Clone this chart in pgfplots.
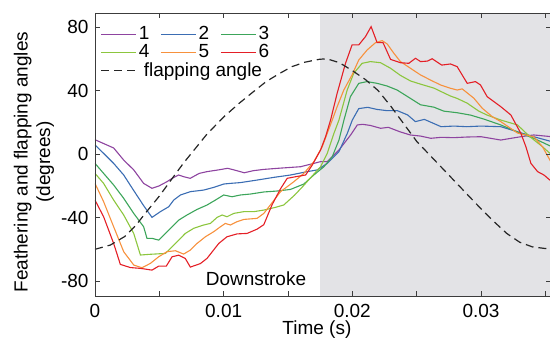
\documentclass[border=0pt]{standalone}
\usepackage{fontspec}
\setmainfont{Liberation Sans}
\usepackage{pgfplots}
\pgfplotsset{compat=1.18}
\definecolor{c1}{RGB}{142,68,160}
\definecolor{c2}{RGB}{59,109,179}
\definecolor{c3}{RGB}{60,165,90}
\definecolor{c4}{RGB}{140,198,62}
\definecolor{c5}{RGB}{247,145,61}
\definecolor{c6}{RGB}{228,31,38}
\definecolor{shade}{RGB}{227,227,230}
\definecolor{axcol}{RGB}{60,60,60}
\begin{document}
\fontsize{19}{22.5}\selectfont
\begin{tikzpicture}
\useasboundingbox (-95pt,-49pt) rectangle (455pt,296pt);
\begin{axis}[
  scale only axis, width=455.6pt, height=283pt,
  xmin=0, xmax=0.03541, ymin=-89.4, ymax=88.8,
  scaled x ticks=false, scaled y ticks=false,
  xtick={0,0.01,0.02,0.03}, xticklabels={0,0.01,0.02,0.03},
  minor xtick={0.005,0.015,0.025,0.035},
  ytick={-80,-40,0,40,80}, yticklabels={-80,-40,0,40,80},
  xticklabel style={yshift=-2pt},
  major tick length=5pt, minor tick length=5pt,
  tick style={axcol, line width=0.8pt},
  axis line style={axcol, line width=0.8pt},
  axis on top,
  xlabel={Time (s)},
  xlabel style={at={(axis description cs:0.487,-0.117)}, anchor=center},
  ylabel={Feathering and flapping angles\\(degrees)},
  ylabel style={align=center, at={(axis description cs:-0.134,0.473)}, anchor=center},
  legend columns=3,
  legend cell align=left,
  legend image code/.code={\draw[#1, line width=1.3pt] (0pt,0pt) -- (35pt,0pt);},
  legend style={at={(axis description cs:0.005,0.968)}, anchor=north west,
    draw=none, fill=none, row sep=-2pt,
    /tikz/every even column/.append style={column sep=9pt}},
]
\addplot[draw=none, fill=shade, forget plot] coordinates {(0.0175,-89.4) (0.036,-89.4) (0.036,88.8) (0.0175,88.8)};

\addplot[color=c1, line width=1.1pt] coordinates {(0,9) (0.00145,3.8) (0.00223,-3.8) (0.00301,-10) (0.00378,-18.5) (0.00443,-21.6) (0.00495,-20.2) (0.0056,-17.4) (0.006,-15.3) (0.0065,-13.2) (0.0069,-14.3) (0.0074,-15.3) (0.0081,-12.2) (0.0087,-11.1) (0.0096,-10) (0.0103,-9) (0.0108,-10) (0.0116,-11.8) (0.0123,-10.5) (0.0131,-9.7) (0.0142,-9) (0.01598,-8) (0.01701,-5.9) (0.01753,-4.8) (0.01805,-4.8) (0.01896,2.5) (0.01987,12) (0.02039,18.3) (0.0208,18.7) (0.0214,18) (0.0222,16.2) (0.0228,16.8) (0.0237,14) (0.0245,12) (0.0253,11.3) (0.0261,9.9) (0.0269,10.5) (0.0279,10.3) (0.0289,10.7) (0.0300,10.9) (0.03154,8.8) (0.0331,10.9) (0.0341,12) (0.0355,10.9)};
\addplot[color=c2, line width=1.1pt] coordinates {(0,5.7) (0.00067,0.4) (0.00145,-5.9) (0.00223,-13.2) (0.00301,-23) (0.00378,-32.5) (0.00443,-39.9) (0.00508,-36.3) (0.00573,-33.2) (0.00612,-29) (0.00664,-25.8) (0.00741,-23.7) (0.00845,-22.7) (0.00923,-21) (0.0100,-18.9) (0.0105,-18.5) (0.0113,-18) (0.0126,-16.4) (0.0139,-14.7) (0.0152,-13.2) (0.0165,-11.1) (0.01728,-10) (0.01805,-5.9) (0.01896,1.5) (0.01961,13) (0.0200,21.4) (0.0205,28.6) (0.0212,29.4) (0.0219,28.1) (0.0227,27.3) (0.0235,27.3) (0.0243,24.6) (0.0249,20.4) (0.0256,21.8) (0.0269,17.2) (0.0279,17.6) (0.0289,17.2) (0.0300,17.6) (0.03154,17.2) (0.03284,14) (0.0341,10.9) (0.0355,7.8)};
\addplot[color=c3, line width=1.1pt] coordinates {(0,-5.9) (0.00067,-12.2) (0.00145,-19.5) (0.00223,-27.9) (0.00301,-37.4) (0.00378,-45.8) (0.00404,-53.1) (0.00443,-53.1) (0.00495,-54.2) (0.00547,-50) (0.00599,-45.8) (0.00651,-41.6) (0.00715,-38.4) (0.00793,-34.9) (0.00871,-32.1) (0.00936,-29) (0.0100,-25.8) (0.01065,-26.9) (0.0113,-25.8) (0.01208,-25.2) (0.01312,-23.9) (0.01415,-23.3) (0.01519,-22.3) (0.01623,-18.9) (0.01701,-13.2) (0.01779,-8) (0.01844,-1.7) (0.01896,8.8) (0.01935,21.4) (0.01985,36.1) (0.0205,44.5) (0.02115,45.6) (0.02193,44.5) (0.02271,42.8) (0.02348,40.3) (0.02452,35) (0.0253,31) (0.02634,29.5) (0.02711,27) (0.02815,26) (0.02919,24.5) (0.03022,22) (0.03154,18.3) (0.0331,13) (0.0341,9.9) (0.0355,4.6)};
\addplot[color=c4, line width=1.1pt] coordinates {(0,-12.2) (0.00067,-18.5) (0.00145,-29) (0.00223,-38.4) (0.00301,-50) (0.00353,-63.6) (0.00417,-63.2) (0.00482,-62.9) (0.00547,-62.6) (0.00599,-58.4) (0.00651,-54.2) (0.00702,-50) (0.00767,-46.8) (0.00845,-44.7) (0.00897,-43.7) (0.00949,-39.9) (0.00988,-38.4) (0.01026,-39.5) (0.01078,-37.4) (0.01156,-36.3) (0.01234,-36.3) (0.01312,-35.3) (0.01402,-33.6) (0.01467,-32.1) (0.0155,-26) (0.0162,-20) (0.01675,-15) (0.01753,-8) (0.01805,0.4) (0.01857,13) (0.01896,21.4) (0.0196,40.3) (0.02011,50.8) (0.02076,57.1) (0.02141,58.2) (0.02219,57.5) (0.02297,54) (0.02374,49.5) (0.02452,46) (0.0253,44) (0.02634,41.5) (0.02711,38.5) (0.02763,36.5) (0.02815,35) (0.02893,32) (0.02983,27) (0.03048,24.5) (0.03154,21.4) (0.03284,18.3) (0.0338,10.9) (0.03478,4.6) (0.0355,-0.6)};
\addplot[color=c5, line width=1.1pt] coordinates {(0,-18.5) (0.00067,-30) (0.00145,-45.8) (0.00223,-61.5) (0.00301,-69.9) (0.00365,-71.6) (0.0043,-68.9) (0.00495,-64.7) (0.0056,-61.5) (0.00625,-60.9) (0.00689,-63) (0.00741,-60.5) (0.00793,-56.3) (0.00858,-52.1) (0.00923,-48.9) (0.00975,-45.8) (0.01013,-43.7) (0.01052,-44.7) (0.01104,-42.6) (0.01156,-41.2) (0.0126,-40.5) (0.01312,-37.4) (0.01376,-30.7) (0.01442,-23.7) (0.01546,-17.4) (0.01623,-12.2) (0.01701,-4.8) (0.01766,4.6) (0.01805,13) (0.01844,21.4) (0.01882,29.8) (0.01934,40.3) (0.01998,49.8) (0.0205,59.2) (0.02115,65.5) (0.0218,70.1) (0.02232,71.4) (0.02271,69.3) (0.02323,63.4) (0.02374,58.2) (0.02452,54) (0.0253,49.8) (0.02607,46.6) (0.02685,43.5) (0.02763,41.4) (0.02815,40.3) (0.02854,41) (0.02945,35.1) (0.0301,28.8) (0.03088,23.5) (0.03154,20.4) (0.03284,13.2) (0.0341,10.9) (0.03478,4.6) (0.0355,-5.9)};
\addplot[color=c6, line width=1.1pt] coordinates {(0,-29) (0.00067,-39.5) (0.00145,-56.3) (0.00197,-69.5) (0.00275,-71.5) (0.00353,-72) (0.00443,-73.1) (0.00495,-70.6) (0.00554,-70.6) (0.00599,-64.7) (0.00651,-63.7) (0.00702,-65.8) (0.00741,-71.2) (0.00819,-69) (0.00871,-65.7) (0.00962,-56.3) (0.01026,-52.1) (0.01104,-50.3) (0.01182,-50) (0.0126,-47.3) (0.01312,-44.5) (0.01376,-32) (0.01441,-22) (0.01494,-15.3) (0.01559,-14.3) (0.01637,-13.2) (0.01689,-6.9) (0.01753,2.5) (0.01792,10.9) (0.01831,21.4) (0.01882,38.2) (0.01947,57.1) (0.01998,68.7) (0.0205,68.7) (0.02102,73.9) (0.02146,80.2) (0.02193,70.1) (0.02239,70.1) (0.02297,59.6) (0.02374,57.5) (0.02439,57.1) (0.02491,60.3) (0.0253,58.2) (0.02584,58.5) (0.0262,60) (0.02695,56) (0.02763,56.7) (0.02815,55) (0.02893,44.5) (0.02957,45.6) (0.02996,43.5) (0.03048,36.1) (0.03154,29.8) (0.03232,24.6) (0.0331,13) (0.03349,4.6) (0.03388,-5.9) (0.0344,-11.1) (0.03489,-13.2) (0.0355,-17.4)};
\addplot[black!85, line width=1.2pt, dash pattern=on 8pt off 5pt] coordinates {(0,-60) (0.0012,-57.3) (0.0023,-52) (0.0032,-44.7) (0.0039,-37.4) (0.005,-26.5) (0.0059,-16.5) (0.0069,-5.5) (0.0078,3.5) (0.0087,12.5) (0.0100,23.3) (0.0112,31.9) (0.0122,38.5) (0.0133,45.6) (0.0143,50.5) (0.0153,55) (0.0163,57.8) (0.0174,59.6) (0.0180,60) (0.019,57.5) (0.020,52.5) (0.021,47) (0.022,40) (0.023,30) (0.024,19) (0.025,8) (0.026,-0.5) (0.027,-9) (0.028,-17.5) (0.029,-26) (0.030,-34.5) (0.031,-42.5) (0.032,-50) (0.033,-55.5) (0.034,-58.5) (0.035,-59.5) (0.0355,-59.7)};
\legend{1,2,3,4,5,6,\makebox[0pt][l]{\hspace{5pt}flapping angle}}
\node[anchor=base] at (axis cs:0.01251,-82.5) {Downstroke};
\end{axis}
\end{tikzpicture}
\end{document}
